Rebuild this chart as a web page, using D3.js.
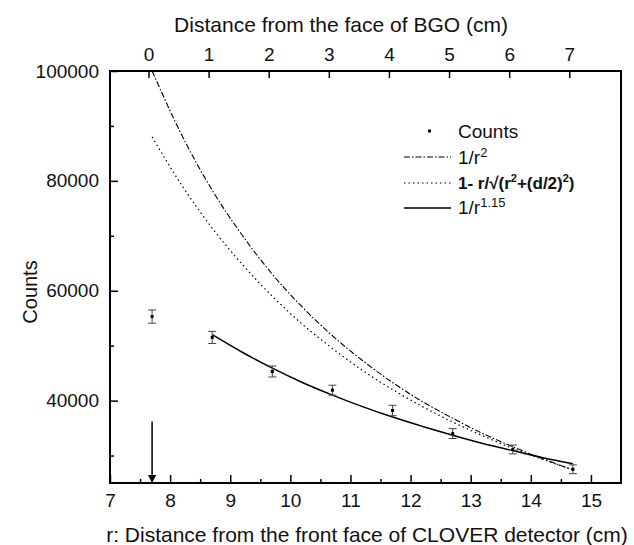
<!DOCTYPE html>
<html>
<head>
<meta charset="utf-8">
<script src="https://cdn.jsdelivr.net/npm/d3@7"></script>
<style>
  body { margin: 0; background: #fff; }
  text { font-family: "Liberation Sans", Arial, sans-serif; fill: #111; }
</style>
</head>
<body>
<svg id="chart"></svg>
<script>
// measured points
const rPos = [7.7, 8.7, 9.7, 10.7, 11.7, 12.7, 13.7, 14.7];
const counts = [55300, 51500, 45300, 41900, 38200, 34000, 31100, 27500];
const countErr = [1200, 1100, 1000, 900, 950, 900, 800, 800];

// curves
const curveR = [7.7, 8.2, 8.7, 9.2, 9.7, 10.2, 10.7, 11.2, 11.7, 12.2, 12.7, 13.2, 13.7, 14.2, 14.7];
const invSquare = [100000, 88200, 78300, 70100, 63000, 57000, 51800, 47300, 43300, 39800, 36800, 34000, 31600, 29400, 27400];
const solidAngle = [88000, 79100, 71400, 64800, 59000, 53900, 49500, 45500, 42000, 38900, 36100, 33600, 31300, 29300, 27400];
const fitR = [8.7, 9.2, 9.7, 10.2, 10.7, 11.2, 11.7, 12.2, 12.7, 13.2, 13.7, 14.2, 14.7];
const fitPow = [52000, 48800, 45900, 43300, 41000, 38900, 37000, 35300, 33700, 32200, 30900, 29600, 28500];

const bottomTicks = [7, 8, 9, 10, 11, 12, 13, 14, 15];
const bottomMinor = [7.5, 8.5, 9.5, 10.5, 11.5, 12.5, 13.5, 14.5];
const topTicks = [0, 1, 2, 3, 4, 5, 6, 7];
const yTicks = [40000, 60000, 80000, 100000];
const yMinor = [30000, 50000, 70000, 90000];
const bgoOffset = 7.64;   // BGO face position on r axis
const arrow = { r: 7.7, from: 36200, to: 25000 };

const width = 634, height = 545;
const margin = { top: 71, right: 13, bottom: 62, left: 110 };
const w = width - margin.left - margin.right;
const h = height - margin.top - margin.bottom;

const svg = d3.select("#chart").attr("width", width).attr("height", height);
const defs = svg.append("defs");
defs.append("marker")
    .attr("id", "head")
    .attr("viewBox", "0 0 10 10")
    .attr("refX", 10).attr("refY", 5)
    .attr("markerWidth", 8).attr("markerHeight", 8)
    .attr("markerUnits", "userSpaceOnUse")
    .attr("orient", "auto")
    .append("path").attr("d", "M0,0 L10,5 L0,10 Z").attr("fill", "#000");

const g = svg.append("g").attr("transform", `translate(${margin.left},${margin.top})`);

const x = d3.scaleLinear().domain([7, 15.5]).range([0, w]);
const xTop = d3.scaleLinear().domain([7 - bgoOffset, 15.5 - bgoOffset]).range([0, w]);
const y = d3.scaleLinear().domain([25000, 100000]).range([h, 0]);

// ticks (inward)
g.append("g").attr("transform", `translate(0,${h})`)
    .call(d3.axisBottom(x).tickValues(bottomTicks).tickFormat(d3.format("d")).tickSizeInner(-8).tickSizeOuter(0).tickPadding(11));
g.append("g").attr("transform", `translate(0,${h})`)
    .call(d3.axisBottom(x).tickValues(bottomMinor).tickFormat("").tickSizeInner(-4).tickSizeOuter(0));
g.append("g")
    .call(d3.axisTop(xTop).tickValues(topTicks).tickFormat(d3.format("d")).tickSizeInner(-7).tickSizeOuter(0).tickPadding(10));
g.append("g")
    .call(d3.axisLeft(y).tickValues(yTicks).tickFormat(d3.format("d")).tickSizeInner(-8).tickSizeOuter(0).tickPadding(11));
g.append("g")
    .call(d3.axisLeft(y).tickValues(yMinor).tickFormat("").tickSizeInner(-4).tickSizeOuter(0));

g.selectAll(".domain").remove();
g.selectAll(".tick line").attr("stroke", "#000").attr("stroke-width", 1.5);
g.selectAll(".tick text").style("font-size", "19px").attr("fill", "#111");

// frame
g.append("rect").attr("width", w).attr("height", h)
    .attr("fill", "none").attr("stroke", "#000").attr("stroke-width", 2);

// curves
const line = d3.line().x(d => x(d[0])).y(d => y(d[1])).curve(d3.curveMonotoneX);
g.append("path").datum(d3.zip(curveR, invSquare)).attr("d", line)
    .attr("fill", "none").attr("stroke", "#000").attr("stroke-width", 1.1)
    .attr("stroke-dasharray", "6,2,1.5,2");
g.append("path").datum(d3.zip(curveR, solidAngle)).attr("d", line)
    .attr("fill", "none").attr("stroke", "#000").attr("stroke-width", 1.2)
    .attr("stroke-dasharray", "1.5,3");
g.append("path").datum(d3.zip(fitR, fitPow)).attr("d", line)
    .attr("fill", "none").attr("stroke", "#000").attr("stroke-width", 1.5);

// error bars
const pts = g.selectAll(".pt").data(d3.range(rPos.length)).enter().append("g");
pts.append("line")
    .attr("x1", i => x(rPos[i])).attr("x2", i => x(rPos[i]))
    .attr("y1", i => y(counts[i] + countErr[i])).attr("y2", i => y(counts[i] - countErr[i]))
    .attr("stroke", "#444").attr("stroke-width", 1);
[1, -1].forEach(s => {
    pts.append("line")
        .attr("x1", i => x(rPos[i]) - 4).attr("x2", i => x(rPos[i]) + 4)
        .attr("y1", i => y(counts[i] + s * countErr[i])).attr("y2", i => y(counts[i] + s * countErr[i]))
        .attr("stroke", "#444").attr("stroke-width", 1);
});
pts.append("rect")
    .attr("x", i => x(rPos[i]) - 1.5).attr("y", i => y(counts[i]) - 1.5)
    .attr("width", 3).attr("height", 3).attr("fill", "#000");

// arrow
g.append("line")
    .attr("x1", x(arrow.r)).attr("x2", x(arrow.r))
    .attr("y1", y(arrow.from)).attr("y2", y(arrow.to))
    .attr("stroke", "#000").attr("stroke-width", 1.5)
    .attr("marker-end", "url(#head)");

// legend
const lg = svg.append("g").attr("transform", "translate(404,0)");
const legendRows = [
    { y: 131, type: "point" },
    { y: 157, type: "dashdot" },
    { y: 183, type: "dot" },
    { y: 208, type: "solid" }
];
legendRows.forEach(rw => {
    if (rw.type === "point") {
        lg.append("rect").attr("x", 24).attr("y", rw.y - 1.5).attr("width", 3).attr("height", 3).attr("fill", "#000");
    } else {
        const ln = lg.append("line").attr("x1", 0).attr("x2", 47).attr("y1", rw.y).attr("y2", rw.y)
            .attr("stroke", "#000").attr("stroke-width", rw.type === "solid" ? 1.5 : 1.1);
        if (rw.type === "dashdot") ln.attr("stroke-dasharray", "6,2,1.5,2");
        if (rw.type === "dot") ln.attr("stroke-dasharray", "1.5,3");
    }
});
const lt = lg.append("g").attr("transform", "translate(54,0)").style("font-size", "19px");
lt.append("text").attr("y", 138).text("Counts");
const t2 = lt.append("text").attr("y", 164);
t2.append("tspan").text("1/r");
t2.append("tspan").attr("dy", -7).style("font-size", "13px").text("2");
const t3 = lt.append("text").attr("y", 189).style("font-weight", "bold").style("font-size", "17px");
t3.append("tspan").text("1- r/√(r");
t3.append("tspan").attr("dy", -7).style("font-size", "11px").text("2");
t3.append("tspan").attr("dy", 7).text("+(d/2)");
t3.append("tspan").attr("dy", -7).style("font-size", "11px").text("2");
t3.append("tspan").attr("dy", 7).text(")");
const t4 = lt.append("text").attr("y", 214);
t4.append("tspan").text("1/r");
t4.append("tspan").attr("dy", -7).style("font-size", "13px").text("1.15");

// axis titles
svg.append("text").attr("x", 341).attr("y", 32).attr("text-anchor", "middle")
    .style("font-size", "21px").text("Distance from the face of BGO (cm)");
svg.append("text").attr("x", 367).attr("y", 542).attr("text-anchor", "middle")
    .style("font-size", "21px").text("r: Distance from the front face of CLOVER detector (cm)");
svg.append("text").attr("transform", "translate(37,292) rotate(-90)").attr("text-anchor", "middle")
    .style("font-size", "20px").text("Counts");
</script>
</body>
</html>
